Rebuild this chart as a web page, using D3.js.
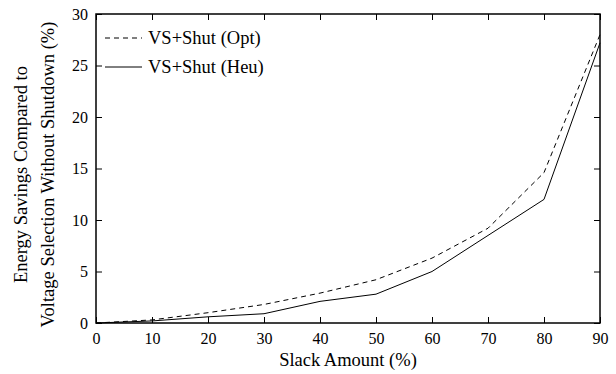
<!DOCTYPE html>
<html>
<head>
<meta charset="utf-8">
<script src="https://cdn.jsdelivr.net/npm/d3@7"></script>
<style>
  body { margin: 0; padding: 0; background: white; }
</style>
</head>
<body>
<div id="chart"></div>
<script>
const width = 616;
const height = 374;
const margin = { top: 14, right: 16, bottom: 51, left: 96 };
// no serif face is installed here, so use the Times-metric sans instead
const font = "'Liberation Serif', 'Liberation Sans', Arial, sans-serif";

const slack = [0, 10, 20, 30, 40, 50, 60, 70, 80, 90];
const optSavings = [0, 0.3, 1.0, 1.8, 2.9, 4.2, 6.3, 9.2, 14.6, 28.0];
const heuSavings = [0, 0.2, 0.6, 0.9, 2.1, 2.8, 5.0, 8.5, 12.0, 27.2];
const xTicks = [0, 10, 20, 30, 40, 50, 60, 70, 80, 90];
const yTicks = [0, 5, 10, 15, 20, 25, 30];

const series = [
  { name: "VS+Shut (Opt)", values: optSavings, dash: "5,4" },
  { name: "VS+Shut (Heu)", values: heuSavings, dash: null }
];

const svg = d3.select("#chart")
  .append("svg")
  .attr("width", width)
  .attr("height", height)
  .style("font-family", font);

const x = d3.scaleLinear()
  .domain([0, 90])
  .range([margin.left, width - margin.right]);

const y = d3.scaleLinear()
  .domain([0, 30])
  .range([height - margin.bottom, margin.top]);

const tickLen = 6;

// axes with inward ticks on all four sides
svg.append("g")
  .attr("transform", "translate(0," + y(0) + ")")
  .call(d3.axisBottom(x).tickValues(xTicks).tickSizeInner(-tickLen).tickSizeOuter(0).tickPadding(10))
  .call(g => g.select(".domain").remove())
  .selectAll("text").style("font-size", "16px").style("font-family", font);

svg.append("g")
  .attr("transform", "translate(0," + y(30) + ")")
  .call(d3.axisTop(x).tickValues(xTicks).tickSizeInner(-tickLen).tickSizeOuter(0).tickFormat(""))
  .call(g => g.select(".domain").remove());

svg.append("g")
  .attr("transform", "translate(" + x(0) + ",0)")
  .call(d3.axisLeft(y).tickValues(yTicks).tickSizeInner(-tickLen).tickSizeOuter(0).tickPadding(8))
  .call(g => g.select(".domain").remove())
  .selectAll("text").style("font-size", "16px").style("font-family", font);

svg.append("g")
  .attr("transform", "translate(" + x(90) + ",0)")
  .call(d3.axisRight(y).tickValues(yTicks).tickSizeInner(-tickLen).tickSizeOuter(0).tickFormat(""))
  .call(g => g.select(".domain").remove());

svg.selectAll(".tick line").attr("stroke", "black");

// frame
svg.append("rect")
  .attr("x", x(0))
  .attr("y", y(30))
  .attr("width", x(90) - x(0))
  .attr("height", y(0) - y(30))
  .attr("fill", "none")
  .attr("stroke", "black")
  .attr("stroke-width", 1.5);

const line = d3.line()
  .x((d, i) => x(slack[i]))
  .y(d => y(d));

svg.selectAll(".series")
  .data(series)
  .enter()
  .append("path")
  .attr("class", "series")
  .attr("d", d => line(d.values))
  .attr("fill", "none")
  .attr("stroke", "black")
  .attr("stroke-width", 1)
  .attr("stroke-dasharray", d => d.dash);

// legend
const legend = svg.append("g");
series.forEach(function (s, i) {
  const ly = 38 + i * 29;
  legend.append("line")
    .attr("x1", 105).attr("x2", 142)
    .attr("y1", ly).attr("y2", ly)
    .attr("stroke", "black")
    .attr("stroke-dasharray", s.dash);
  legend.append("text")
    .attr("x", 148)
    .attr("y", ly)
    .attr("dy", "0.35em")
    .style("font-size", "18.5px")
    .style("font-family", font)
    .text(s.name);
});

// axis titles
svg.append("text")
  .attr("x", (x(0) + x(90)) / 2)
  .attr("y", 366)
  .attr("text-anchor", "middle")
  .style("font-size", "18.5px")
  .style("font-family", font)
  .text("Slack Amount (%)");

const yTitle = svg.append("text")
  .attr("transform", "translate(0," + ((y(0) + y(30)) / 2 + 6) + ") rotate(-90)")
  .attr("text-anchor", "middle")
  .style("font-size", "18.5px")
  .style("font-family", font);
yTitle.append("tspan").attr("x", 0).attr("y", 27).text("Energy Savings Compared to");
yTitle.append("tspan").attr("x", 0).attr("y", 54).text("Voltage Selection Without Shutdown (%)");
</script>
</body>
</html>
